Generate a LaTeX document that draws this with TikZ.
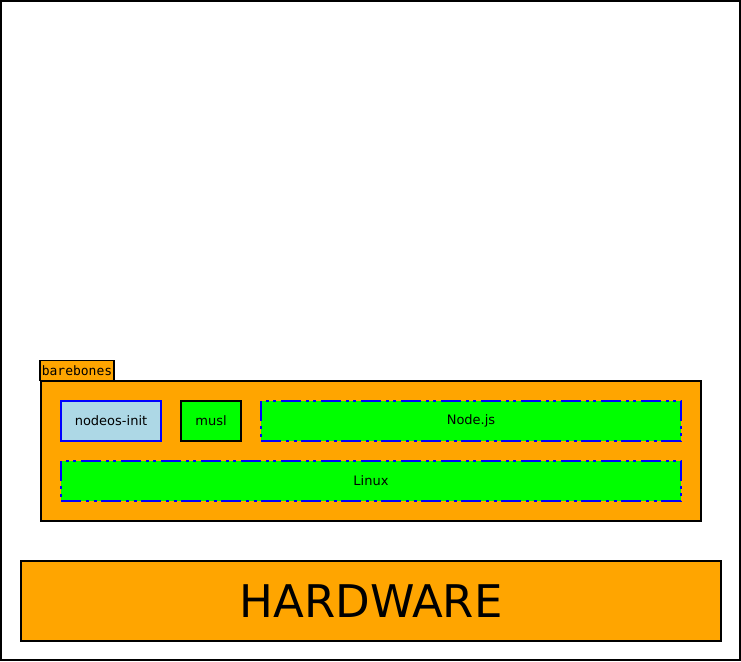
\documentclass[tikz,border=0pt]{standalone}
\usepackage{fontspec}
\setmainfont{DejaVu Sans}
\setmonofont{DejaVu Sans Mono}
\definecolor{boxorange}{HTML}{FFA500}
\definecolor{boxgreen}{HTML}{00FF00}
\definecolor{boxblue}{HTML}{ADD8E6}
\tikzset{
	layer/.style={draw=black, line width=1.3pt, inner sep=0pt, outer sep=0pt, font=\fontsize{13}{15}\selectfont},
	dashdotdot/.style={draw=blue, dash pattern=on 20pt off 5pt on 3pt off 4.5pt on 3pt off 4.5pt}
}
\begin{document}
\begin{tikzpicture}[x=1pt, y=-1pt]
		\useasboundingbox (0,0) rectangle (741,661);
		\draw[line width=2pt] (1,1) rectangle (740,660);
		\node[layer, fill=boxorange, minimum width=74pt, minimum height=20pt, font=\fontsize{13}{15}\ttfamily] (barebones) at (77,370.5) {barebones};
		\node[layer, fill=boxorange, minimum width=660pt, minimum height=140pt] (barebonesbox) at (371,451) {};
		\node[layer, draw=blue, fill=boxblue, minimum width=100pt, minimum height=40pt] (nodeosinit) at (111,421) {nodeos-init};
		\node[layer, fill=boxgreen, minimum width=60pt, minimum height=40pt] (musl) at (211,421) {musl};
		\node[layer, dashdotdot, fill=boxgreen, minimum width=420pt, minimum height=40pt] (nodejs) at (471,421) {Node.js};
		\node[layer, dashdotdot, fill=boxgreen, minimum width=620pt, minimum height=40pt] (linux) at (371,481) {Linux};
		\node[layer, fill=boxorange, minimum width=700pt, minimum height=80pt, font=\fontsize{45}{50}\selectfont] (hardware) at (371,601) {HARDWARE};
		\end{tikzpicture}
\end{document}
